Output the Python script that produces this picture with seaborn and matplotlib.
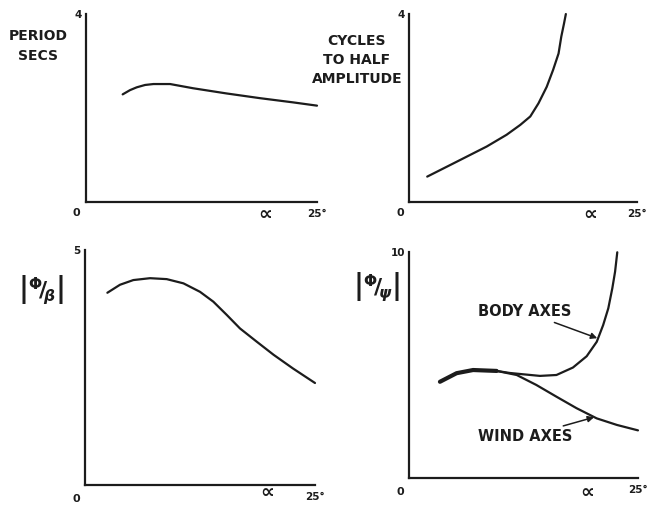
import matplotlib
matplotlib.use("Agg")
import matplotlib.pyplot as plt
import seaborn as sns

# ---- data ----
period_alpha = [3.97, 4.76, 5.49, 6.39, 7.3, 9.1, 11.6, 15.2, 18.8, 22.4, 25.0]
period_secs = [2.29, 2.38, 2.44, 2.49, 2.51, 2.51, 2.42, 2.31, 2.21, 2.12, 2.05]

cycles_alpha = [2.0, 4.86, 8.52, 10.7, 12.2, 13.3, 14.2, 15.1, 15.8, 16.4, 16.7, 17.0, 17.2]
cycles_half = [0.54, 0.82, 1.18, 1.43, 1.64, 1.82, 2.10, 2.45, 2.81, 3.16, 3.52, 3.80, 4.0]

phib_alpha = [2.43, 3.80, 5.25, 7.07, 8.88, 10.7, 12.5, 13.95, 15.4, 16.85, 18.66, 20.5, 22.6, 25.0]
phib_ratio = [4.09, 4.26, 4.36, 4.40, 4.38, 4.29, 4.11, 3.90, 3.62, 3.33, 3.05, 2.77, 2.48, 2.17]

body_alpha = [3.38, 5.2, 7.0, 9.57, 11.0, 12.5, 14.3, 16.1, 17.9, 19.4, 20.5, 21.2, 21.76, 22.2, 22.5, 22.74]
body_ratio = [4.27, 4.65, 4.79, 4.75, 4.66, 4.60, 4.53, 4.57, 4.90, 5.40, 6.04, 6.78, 7.52, 8.41, 9.14, 10.0]

wind_alpha = [3.38, 5.2, 7.0, 9.57, 11.76, 13.9, 16.1, 18.3, 20.5, 22.7, 25.0]
wind_ratio = [4.27, 4.65, 4.79, 4.75, 4.57, 4.13, 3.61, 3.10, 2.65, 2.36, 2.12]

x_max = 25
x_labels = ["0", "25°"]

sns.set_style("white")
plt.rcParams["font.family"] = ["DejaVu Sans"]
plt.rcParams["font.weight"] = "bold"
plt.rcParams["mathtext.fontset"] = "dejavusans"

INK = "#1c1c1c"
fig = plt.figure(figsize=(6.5, 5.08), dpi=100)
W, H = 650.0, 508.0

def make_ax(rect, ymax, ytick_label, alpha_xy):
    ax = fig.add_axes(rect)
    ax.set_xlim(0, x_max)
    ax.set_ylim(0, ymax)
    for s in ["top", "right"]:
        ax.spines[s].set_visible(False)
    for s in ["left", "bottom"]:
        ax.spines[s].set_color(INK)
        ax.spines[s].set_linewidth(1.6)
    ax.set_yticks([ymax])
    ax.set_yticklabels([ytick_label], fontsize=7.5, fontweight="bold", color=INK)
    ax.set_xticks([x_max])
    ax.set_xticklabels([x_labels[1]], fontsize=7.5, fontweight="bold", color=INK)
    ax.tick_params(axis="both", direction="in", length=5, width=1.4, color=INK, pad=5)
    ax.tick_params(axis="y", pad=3)
    ax.text(-0.04, -0.06, x_labels[0], transform=ax.transAxes, ha="center", va="center",
            fontsize=8, fontweight="bold", color=INK)
    fig.text(alpha_xy[0] / W, 1 - alpha_xy[1] / H, "∝", ha="center", va="center",
             fontsize=14, fontweight="bold", color=INK)
    ax.set_xlabel("")
    ax.set_ylabel("")
    return ax

ax1 = make_ax([0.1323, 0.6024, 0.3554, 0.3700], 4, "4", (265, 215))
ax2 = make_ax([0.6292, 0.6024, 0.3508, 0.3700], 4, "4", (590, 215))
ax3 = make_ax([0.1308, 0.0453, 0.3538, 0.4626], 5, "5", (267, 493))
ax4 = make_ax([0.6292, 0.0585, 0.3523, 0.4449], 10, "10", (587, 493))

lw = 1.6
sns.lineplot(x=period_alpha, y=period_secs, ax=ax1, color=INK, lw=lw, sort=False)
sns.lineplot(x=cycles_alpha, y=cycles_half, ax=ax2, color=INK, lw=lw, sort=False)
sns.lineplot(x=phib_alpha, y=phib_ratio, ax=ax3, color=INK, lw=lw, sort=False)
sns.lineplot(x=body_alpha, y=body_ratio, ax=ax4, color=INK, lw=lw, sort=False)
sns.lineplot(x=wind_alpha, y=wind_ratio, ax=ax4, color=INK, lw=lw, sort=False)
sns.lineplot(x=wind_alpha[:4], y=wind_ratio[:4], ax=ax4, color=INK, lw=3.0, sort=False)

for ax in (ax1, ax2, ax3, ax4):
    for ln in ax.lines:
        ln.set_clip_on(False)
        ln.set_solid_capstyle("round")
        ln.set_solid_joinstyle("round")

# y labels
fig.text(38 / W, 1 - 46 / H, "PERIOD\nSECS", ha="center", va="center",
         fontsize=10, fontweight="bold", color=INK, linespacing=1.5, multialignment="center")
fig.text(357 / W, 1 - 60 / H, "CYCLES\nTO HALF\nAMPLITUDE", ha="center", va="center",
         fontsize=10, fontweight="bold", color=INK, linespacing=1.45, multialignment="center")
fig.text(41 / W, 1 - 290 / H, r"$\left|{}^{\Phi}\!/{}_{\!\beta}\right|$", ha="center",
         va="center", fontsize=16, color=INK)
fig.text(377 / W, 1 - 287 / H, r"$\left|{}^{\Phi}\!/{}_{\!\psi}\right|$", ha="center",
         va="center", fontsize=16, color=INK)

arrow = dict(arrowstyle="-|>", color=INK, lw=1.1, mutation_scale=9, shrinkA=0, shrinkB=0)
ax4.annotate("BODY AXES", xy=(20.55, 6.2), xytext=(12.66, 7.37), ha="center", va="center",
             fontsize=10.5, fontweight="bold", color=INK, arrowprops=arrow)
ax4.annotate("WIND AXES", xy=(20.2, 2.7), xytext=(12.66, 1.84), ha="center", va="center",
             fontsize=10.5, fontweight="bold", color=INK, arrowprops=arrow)

fig.savefig("out.png", dpi=100, facecolor="white")
